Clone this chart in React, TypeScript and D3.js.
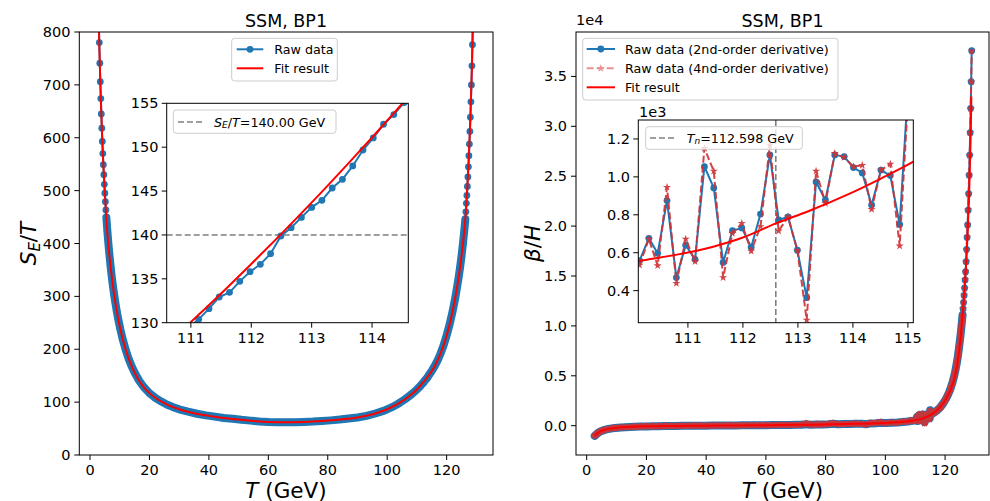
import React from "react";
import * as d3 from "d3";

// ---------------- data ----------------
// Left panel: S_E/T vs T
const seT = [2.79,2.96,3.13,3.30,3.47,3.64,3.81,3.98,4.15,4.32,4.49,4.66,4.83,5.00,
  5.17,5.34,5.51,5.68,5.85,6.2,6.6,7.0,7.5,8.0,8.5,9.0,9.6,10.2,11.0,12.0,13.0,14.0,15.0,16.5,18.0,20.0,22.0,24.0,26.0,28.0,30.0,
  33,36,39,42,45,48,51,54,57,60,63,66,69,72,75,78,81,84,87,90,93,96,99,
  102,104,106,108,110,
  111.13,111.30,111.47,111.64,111.81,111.98,112.15,112.32,112.49,112.66,112.83,113.00,113.17,113.34,113.51,113.68,113.85,114.02,114.19,114.36,114.53,
  115,116,117,118,119,120,121,122,123,124,124.5,125,125.5,126,126.3,126.47,
  126.64,126.81,126.98,127.15,127.32,127.49,127.66,127.83,128.00,128.17,128.34,128.51,128.68,128.85,129.02];
const seVal = [880,825,780,741,706,674,645,618,593,570,549,530,512,495,
  479,463.5,449,436,423,399,375,353,329,308,289,272,254,238,219,199,182,168,156,141,129,117,108,101,95,90.5,86.5,
  82,78,75,72.5,70,68.5,66.5,65,63.5,62.5,62,61.8,62,62.5,63.2,64.3,65.5,67,69,71,74,78.5,84,
  91.5,98,105.5,114,124,
  130.38,131.60,132.93,133.46,134.71,135.81,136.65,137.86,139.88,140.83,142.00,143.14,143.94,145.35,146.34,147.86,149.68,151.05,152.61,153.71,155.08,
  159.2,168.5,179.5,192.5,208,226,247,271.5,300,334.5,354,376,400.5,428,446,460,
  476,491,508,526,545,566,588,612,639,668,700,736,776,825,880];
const seFitT = [2.75,3.0,3.5,4.0,4.5,5.0,6,7,8,9,10,12,14,16,18,20,25,30,35,40,45,50,55,60,66,72,78,84,90,96,100,104,108,110,
  110.8,111.2,111.6,112.0,112.4,112.8,113.2,113.6,114.0,114.4,114.8,116,118,120,122,124,125,126,126.5,127,127.5,128,128.5,128.8,129.0,129.2];
const seFitVal = [900,812,700,615,548,495,408,353,308,272,243,199,168,145,129,117,98,86.5,79,74,70,67,64.5,62.5,61.8,62.5,64.3,67,71,78.5,86.5,98,114,124,
  128.8,131.37,133.99,136.69,139.44,142.26,145.14,148.09,151.10,154.18,157.32,168.5,192.5,226,271.5,334.5,376,428,462,509,567,639,734,810,875,950];
const seThreshold = 140;
const leftXTicks = [0,20,40,60,80,100,120];
const leftYTicks = [0,100,200,300,400,500,600,700,800];
const leftInsetXTicks = [111,112,113,114];
const leftInsetYTicks = [130,135,140,145,150,155];

// Right panel: beta/H vs T
const bhT = [2.70,2.90,3.10,3.40,3.70,4.0,4.4,4.8,5.3,5.8,6.4,7.0,7.8,8.6,9.5,10.5,11.5,13,14.5,16,18,
  20,22,24,26,28,30,32,34,36,38,40,42,44,46,48,50,52,54,56,58,60,62,64,66,68,70,72,
  73.5,75,77,79,81,82.5,84,86,88,90,92,93.5,95,97,98.5,100,102,104,106,107.5,108.5,109.3,
  110.12,110.29,110.45,110.62,110.79,110.96,111.13,111.30,111.47,111.64,111.81,111.98,112.15,112.32,112.49,112.65,112.82,112.99,113.16,113.33,113.50,113.67,113.84,114.01,114.17,114.34,114.51,114.68,114.85,115.02,115.19,
  115.5,115.9,116.4,116.9,117.4,117.9,118.4,118.9,119.4,119.9,120.4,120.9,121.4,121.9,122.4,122.9,123.4,123.9,124.3,124.7,125.1,125.5,
  125.85,126.02,126.19,126.36,126.53,
  126.70,126.87,127.04,127.21,127.38,127.55,127.72,127.89,128.06,128.23,128.40,128.57,128.74,128.91];
const bh2nd = [-1020,-960,-900,-820,-750,-680,-610,-550,-490,-440,-390,-345,-300,-265,-235,-205,-180,-150,-125,-105,-85,
  -70,-60,-45,-35,-30,-20,-15,-10,-5,0,5,10,15,20,25,30,35,40,45,50,55,60,70,75,80,90,95,
  150,105,115,125,140,200,150,165,175,190,205,150,230,250,300,275,300,330,380,420,470,500,
  558,676,597,875,469,640,565,1054,942,549,716,731,629,804,1116,773,789,613,363,973,878,1116,1107,1049,1021,852,1036,1007,749,1550,1150,
  1180,1250,1340,1450,1560,1700,1850,2050,2250,2500,2750,3050,3400,3800,4250,4800,5450,6250,7000,7900,8900,10000,
  11100,11700,12350,13050,13800,
  14600,15430,16430,17670,18870,20110,21600,23240,25100,27120,29360,31800,34470,37570];
const bh4th = [-990,-940,-890,-810,-735,-670,-600,-540,-480,-430,-385,-340,-295,-260,-225,-200,-175,-145,-130,-100,-90,
  -60,-55,-50,-30,-25,-25,-10,-5,0,10,0,20,10,25,35,20,45,35,55,40,70,55,85,65,95,80,110,
  220,95,130,110,165,250,140,180,160,215,180,110,260,280,350,240,330,300,420,390,520,470,
  535,672,532,945,439,672,553,1151,1031,469,702,755,609,738,1168,715,789,613,245,1031,861,1124,1103,1054,1061,829,1036,1068,636,1500,1180,
  1200,1290,1300,1500,1520,1750,1800,2100,2200,2550,2700,3100,3350,3850,4200,4850,5400,6300,6950,7950,8850,10050,
  11050,11750,12300,13100,13750,
  14650,15400,16450,17650,18900,20100,21620,23200,25120,27100,29380,31780,34450,37550];
const bhFitT = [2.7,3.0,3.5,4.0,5.0,6.0,7.0,8.0,10,12,15,20,25,30,40,50,60,70,80,90,95,100,104,107,109,
  110.1,110.8,111.46,112.0,112.6,113.2,113.89,114.5,115.1,116,117,118,119,120,121,122,123,124,125,
  125.5,126,126.5,127,127.5,128,128.5,128.8];
const bhFitVal = [-1000,-910,-790,-680,-520,-420,-345,-290,-215,-165,-115,-65,-40,-20,5,30,55,90,130,185,225,280,340,410,490,
  556,590,632,680,755,820,905,990,1080,1250,1480,1760,2100,2520,3050,3720,4600,6000,8300,
  9800,11600,13600,16000,19000,22800,28200,33000];
const Tn = 112.598;
const rightXTicks = [0,20,40,60,80,100,120];
const rightYTicks = [0,5000,10000,15000,20000,25000,30000,35000];
const rightInsetXTicks = [111,112,113,114,115];
const rightInsetYTicks = [400,600,800,1000,1200];

// ---------------- styling ----------------
const FONT = "DejaVu Sans";
const BLUE = "#1f77b4";
const STARRED = "#cf3438";
const TABRED = "#d62728";
const FITRED = "#ff0000";
const GRAY = "#808080";
const TICK_FS = 14.5;
const LEG_FS = 12.7;

type Scale = d3.ScaleLinear<number, number>;

function pathOf(xs: number[], ys: number[], idx: number[], sx: Scale, sy: Scale, curve: any = d3.curveLinear) {
  return d3.line<number>().x(i => sx(xs[i])).y(i => sy(ys[i])).curve(curve)(idx) || "";
}

function starPath(cx: number, cy: number, R: number) {
  const r = R * 0.382;
  let d = "";
  for (let k = 0; k < 10; k++) {
    const a = -Math.PI / 2 + (k * Math.PI) / 5;
    const rad = k % 2 ? r : R;
    d += (k ? "L" : "M") + (cx + rad * Math.cos(a)).toFixed(2) + "," + (cy + rad * Math.sin(a)).toFixed(2);
  }
  return d + "Z";
}

function Series({ xs, ys, sx, sy, band, kind }: { xs: number[]; ys: number[]; sx: Scale; sy: Scale; band?: [number, number]; kind: "circle" | "star" }) {
  const all = d3.range(xs.length);
  const bandIdx = band ? all.filter(i => xs[i] >= band[0] && xs[i] <= band[1]) : [];
  const isC = kind === "circle";
  const col = isC ? BLUE : STARRED;
  const op = isC ? 1 : 0.92;
  return (
    <g opacity={op}>
      {band && <path d={pathOf(xs, ys, bandIdx, sx, sy)} fill="none" stroke={col} strokeWidth={isC ? 8 : 6} strokeLinejoin="round" strokeLinecap="round" />}
      <path d={pathOf(xs, ys, all, sx, sy)} fill="none" stroke={col} strokeWidth={2} strokeDasharray={isC ? undefined : "7,3"} />
      {all.map(i =>
        isC ? (
          <circle key={i} cx={sx(xs[i])} cy={sy(ys[i])} r={3.4} fill={col} />
        ) : (
          <path key={i} d={starPath(sx(xs[i]), sy(ys[i]), 4.3)} fill={col} />
        )
      )}
    </g>
  );
}

function Frame({ box, sx, sy, xticks, yticks, yfmt, xLabBase, yLabRight }: any) {
  const { x0, x1, y0, y1 } = box;
  return (
    <g fontFamily={FONT} fontSize={TICK_FS} fill="#000">
      <rect x={x0} y={y0} width={x1 - x0} height={y1 - y0} fill="none" stroke="#000" strokeWidth={1} />
      {xticks.map((t: number) => (
        <g key={"x" + t}>
          <line x1={sx(t)} x2={sx(t)} y1={y1} y2={y1 + 5} stroke="#000" strokeWidth={1} />
          <text x={sx(t)} y={xLabBase} textAnchor="middle">{t}</text>
        </g>
      ))}
      {yticks.map((t: number) => (
        <g key={"y" + t}>
          <line x1={x0 - 5} x2={x0} y1={sy(t)} y2={sy(t)} stroke="#000" strokeWidth={1} />
          <text x={yLabRight} y={sy(t)} textAnchor="end" dominantBaseline="central">{yfmt ? yfmt(t) : t}</text>
        </g>
      ))}
    </g>
  );
}

function LegendBox({ x, y, w, h }: any) {
  return <rect x={x} y={y} width={w} height={h} rx={3} fill="#fff" fillOpacity={0.8} stroke="#cccccc" strokeWidth={1} />;
}

export default function App() {
  // left main
  const L = { x0: 79.3, x1: 493, y0: 32, y1: 455 };
  const lx = d3.scaleLinear().domain([-3.6, 135.6]).range([L.x0, L.x1]);
  const ly = d3.scaleLinear().domain([0, 800]).range([L.y1, L.y0]);
  const LI = { x0: 166.7, x1: 408.3, y0: 103.3, y1: 322.7 };
  const lix = d3.scaleLinear().domain([110.6, 114.6]).range([LI.x0, LI.x1]);
  const liy = d3.scaleLinear().domain([130, 155]).range([LI.y1, LI.y0]);
  // right main
  const R = { x0: 576, x1: 989, y0: 32, y1: 455 };
  const rx = d3.scaleLinear().domain([-3.58, 134.7]).range([R.x0, R.x1]);
  const ry = d3.scaleLinear().domain([-2936, 39450]).range([R.y1, R.y0]);
  const RI = { x0: 638.3, x1: 913.3, y0: 120, y1: 322.7 };
  const rix = d3.scaleLinear().domain([110.098, 115.098]).range([RI.x0, RI.x1]);
  const riy = d3.scaleLinear().domain([231, 1300]).range([RI.y1, RI.y0]);

  const clip = (id: string, b: any) => (
    <clipPath id={id}><rect x={b.x0} y={b.y0} width={b.x1 - b.x0} height={b.y1 - b.y0} /></clipPath>
  );
  const fitIdxL = d3.range(seFitT.length);
  const fitIdxR = d3.range(bhFitT.length);
  const f1 = d3.format(".1f");

  return (
    <svg width={990} height={501} style={{ position: "absolute", left: 0, top: 0, background: "#fff" }} fontFamily={FONT}>
      <defs>
        {clip("cL", L)}
        {clip("cLI", LI)}
        {clip("cR", R)}
        {clip("cRI", RI)}
      </defs>
      <rect x={0} y={0} width={990} height={501} fill="#fff" />

      {/* ---------- LEFT PANEL ---------- */}
      <g clipPath="url(#cL)">
        <Series xs={seT} ys={seVal} sx={lx} sy={ly} band={[5.45, 126.35]} kind="circle" />
        <path d={pathOf(seFitT, seFitVal, fitIdxL, lx, ly, d3.curveMonotoneX)} fill="none" stroke={FITRED} strokeWidth={2} />
      </g>
      <Frame box={L} sx={lx} sy={ly} xticks={leftXTicks} yticks={leftYTicks} xLabBase={474.5} yLabRight={70.5} />
      <text x={286} y={26.7} textAnchor="middle" fontSize={17.5}>SSM, BP1</text>
      <text x={286} y={497.5} textAnchor="middle" fontSize={21.5}>
        <tspan fontStyle="italic">T</tspan> (GeV)
      </text>
      <text transform="translate(36,243.5) rotate(-90)" textAnchor="middle" fontSize={21.5}>
        <tspan fontStyle="italic">S</tspan>
        <tspan fontStyle="italic" fontSize={15} dy={4}>E</tspan>
        <tspan dy={-4}>/</tspan>
        <tspan fontStyle="italic">T</tspan>
      </text>
      {/* left legend */}
      <g fontSize={LEG_FS}>
        <LegendBox x={231.7} y={38.3} w={105.6} h={42.7} />
        <line x1={236.7} x2={263.3} y1={49.3} y2={49.3} stroke={BLUE} strokeWidth={2} />
        <circle cx={250} cy={49.3} r={3.4} fill={BLUE} />
        <text x={274.3} y={49.3} dominantBaseline="central">Raw data</text>
        <line x1={236.7} x2={263.3} y1={68.3} y2={68.3} stroke={FITRED} strokeWidth={2} />
        <text x={274.3} y={68.3} dominantBaseline="central">Fit result</text>
      </g>
      {/* left inset */}
      <rect x={LI.x0} y={LI.y0} width={LI.x1 - LI.x0} height={LI.y1 - LI.y0} fill="#fff" />
      <g clipPath="url(#cLI)">
        <line x1={LI.x0} x2={LI.x1} y1={liy(seThreshold)} y2={liy(seThreshold)} stroke={GRAY} strokeWidth={1.6} strokeDasharray="6,3" />
        <Series xs={seT} ys={seVal} sx={lix} sy={liy} kind="circle" />
        <path d={pathOf(seFitT, seFitVal, fitIdxL, lix, liy, d3.curveMonotoneX)} fill="none" stroke={FITRED} strokeWidth={2} />
      </g>
      <Frame box={LI} sx={lix} sy={liy} xticks={leftInsetXTicks} yticks={leftInsetYTicks} xLabBase={343} yLabRight={158.5} />
      <g fontSize={LEG_FS}>
        <LegendBox x={173.3} y={110} w={162.7} h={23.3} />
        <line x1={178} x2={203} y1={122} y2={122} stroke={GRAY} strokeWidth={1.6} strokeDasharray="6,3" />
        <text x={214} y={122} dominantBaseline="central">
          <tspan fontStyle="italic">S</tspan>
          <tspan fontStyle="italic" fontSize={9} dy={3}>E</tspan>
          <tspan dy={-3}>/</tspan>
          <tspan fontStyle="italic">T</tspan>=140.00 GeV
        </text>
      </g>

      {/* ---------- RIGHT PANEL ---------- */}
      <g clipPath="url(#cR)">
        <Series xs={bhT} ys={bh2nd} sx={rx} sy={ry} band={[2.6, 125.9]} kind="circle" />
        <Series xs={bhT} ys={bh4th} sx={rx} sy={ry} band={[2.6, 125.9]} kind="star" />
        <path d={pathOf(bhFitT, bhFitVal, fitIdxR, rx, ry, d3.curveMonotoneX)} fill="none" stroke={FITRED} strokeWidth={2} />
      </g>
      <Frame box={R} sx={rx} sy={ry} xticks={rightXTicks} yticks={rightYTicks} yfmt={(v: number) => f1(v / 1e4)} xLabBase={474.5} yLabRight={567} />
      <text x={576} y={25} fontSize={TICK_FS}>1e4</text>
      <text x={782.5} y={26.7} textAnchor="middle" fontSize={17.5}>SSM, BP1</text>
      <text x={782.5} y={497.5} textAnchor="middle" fontSize={21.5}>
        <tspan fontStyle="italic">T</tspan> (GeV)
      </text>
      <text transform="translate(540,243.5) rotate(-90)" textAnchor="middle" fontSize={21.5}>
        <tspan fontStyle="italic">β</tspan>/<tspan fontStyle="italic">H</tspan>
      </text>
      {/* right legend */}
      <g fontSize={LEG_FS}>
        <LegendBox x={582.7} y={38.3} w={255.3} h={61.7} />
        <line x1={586.7} x2={615} y1={49} y2={49} stroke={BLUE} strokeWidth={2} />
        <circle cx={600.8} cy={49} r={3.4} fill={BLUE} />
        <text x={625} y={49} dominantBaseline="central">Raw data (2nd-order derivative)</text>
        <g opacity={0.5}>
          <line x1={586.7} x2={615} y1={68.3} y2={68.3} stroke={TABRED} strokeWidth={2} strokeDasharray="7,3" />
          <path d={starPath(600.8, 68.3, 4.3)} fill={TABRED} />
        </g>
        <text x={625} y={68.3} dominantBaseline="central">Raw data (4nd-order derivative)</text>
        <line x1={586.7} x2={615} y1={87.3} y2={87.3} stroke={FITRED} strokeWidth={2} />
        <text x={625} y={87.3} dominantBaseline="central">Fit result</text>
      </g>
      {/* right inset */}
      <rect x={RI.x0} y={RI.y0} width={RI.x1 - RI.x0} height={RI.y1 - RI.y0} fill="#fff" />
      <g clipPath="url(#cRI)">
        <line x1={rix(Tn)} x2={rix(Tn)} y1={RI.y0} y2={RI.y1} stroke={GRAY} strokeWidth={1.6} strokeDasharray="6,3" />
        <Series xs={bhT} ys={bh2nd} sx={rix} sy={riy} kind="circle" />
        <Series xs={bhT} ys={bh4th} sx={rix} sy={riy} kind="star" />
        <path d={pathOf(bhFitT, bhFitVal, fitIdxR, rix, riy, d3.curveMonotoneX)} fill="none" stroke={FITRED} strokeWidth={2} />
      </g>
      <Frame box={RI} sx={rix} sy={riy} xticks={rightInsetXTicks} yticks={rightInsetYTicks} yfmt={(v: number) => f1(v / 1e3)} xLabBase={343} yLabRight={630} />
      <text x={639} y={116.5} fontSize={TICK_FS}>1e3</text>
      <g fontSize={LEG_FS}>
        <LegendBox x={645.7} y={126.7} w={156.6} h={22.6} />
        <line x1={650} x2={675} y1={138} y2={138} stroke={GRAY} strokeWidth={1.6} strokeDasharray="6,3" />
        <text x={686.7} y={138} dominantBaseline="central">
          <tspan fontStyle="italic">T</tspan>
          <tspan fontStyle="italic" fontSize={9} dy={3}>n</tspan>
          <tspan dy={-3}>=112.598 GeV</tspan>
        </text>
      </g>
    </svg>
  );
}
